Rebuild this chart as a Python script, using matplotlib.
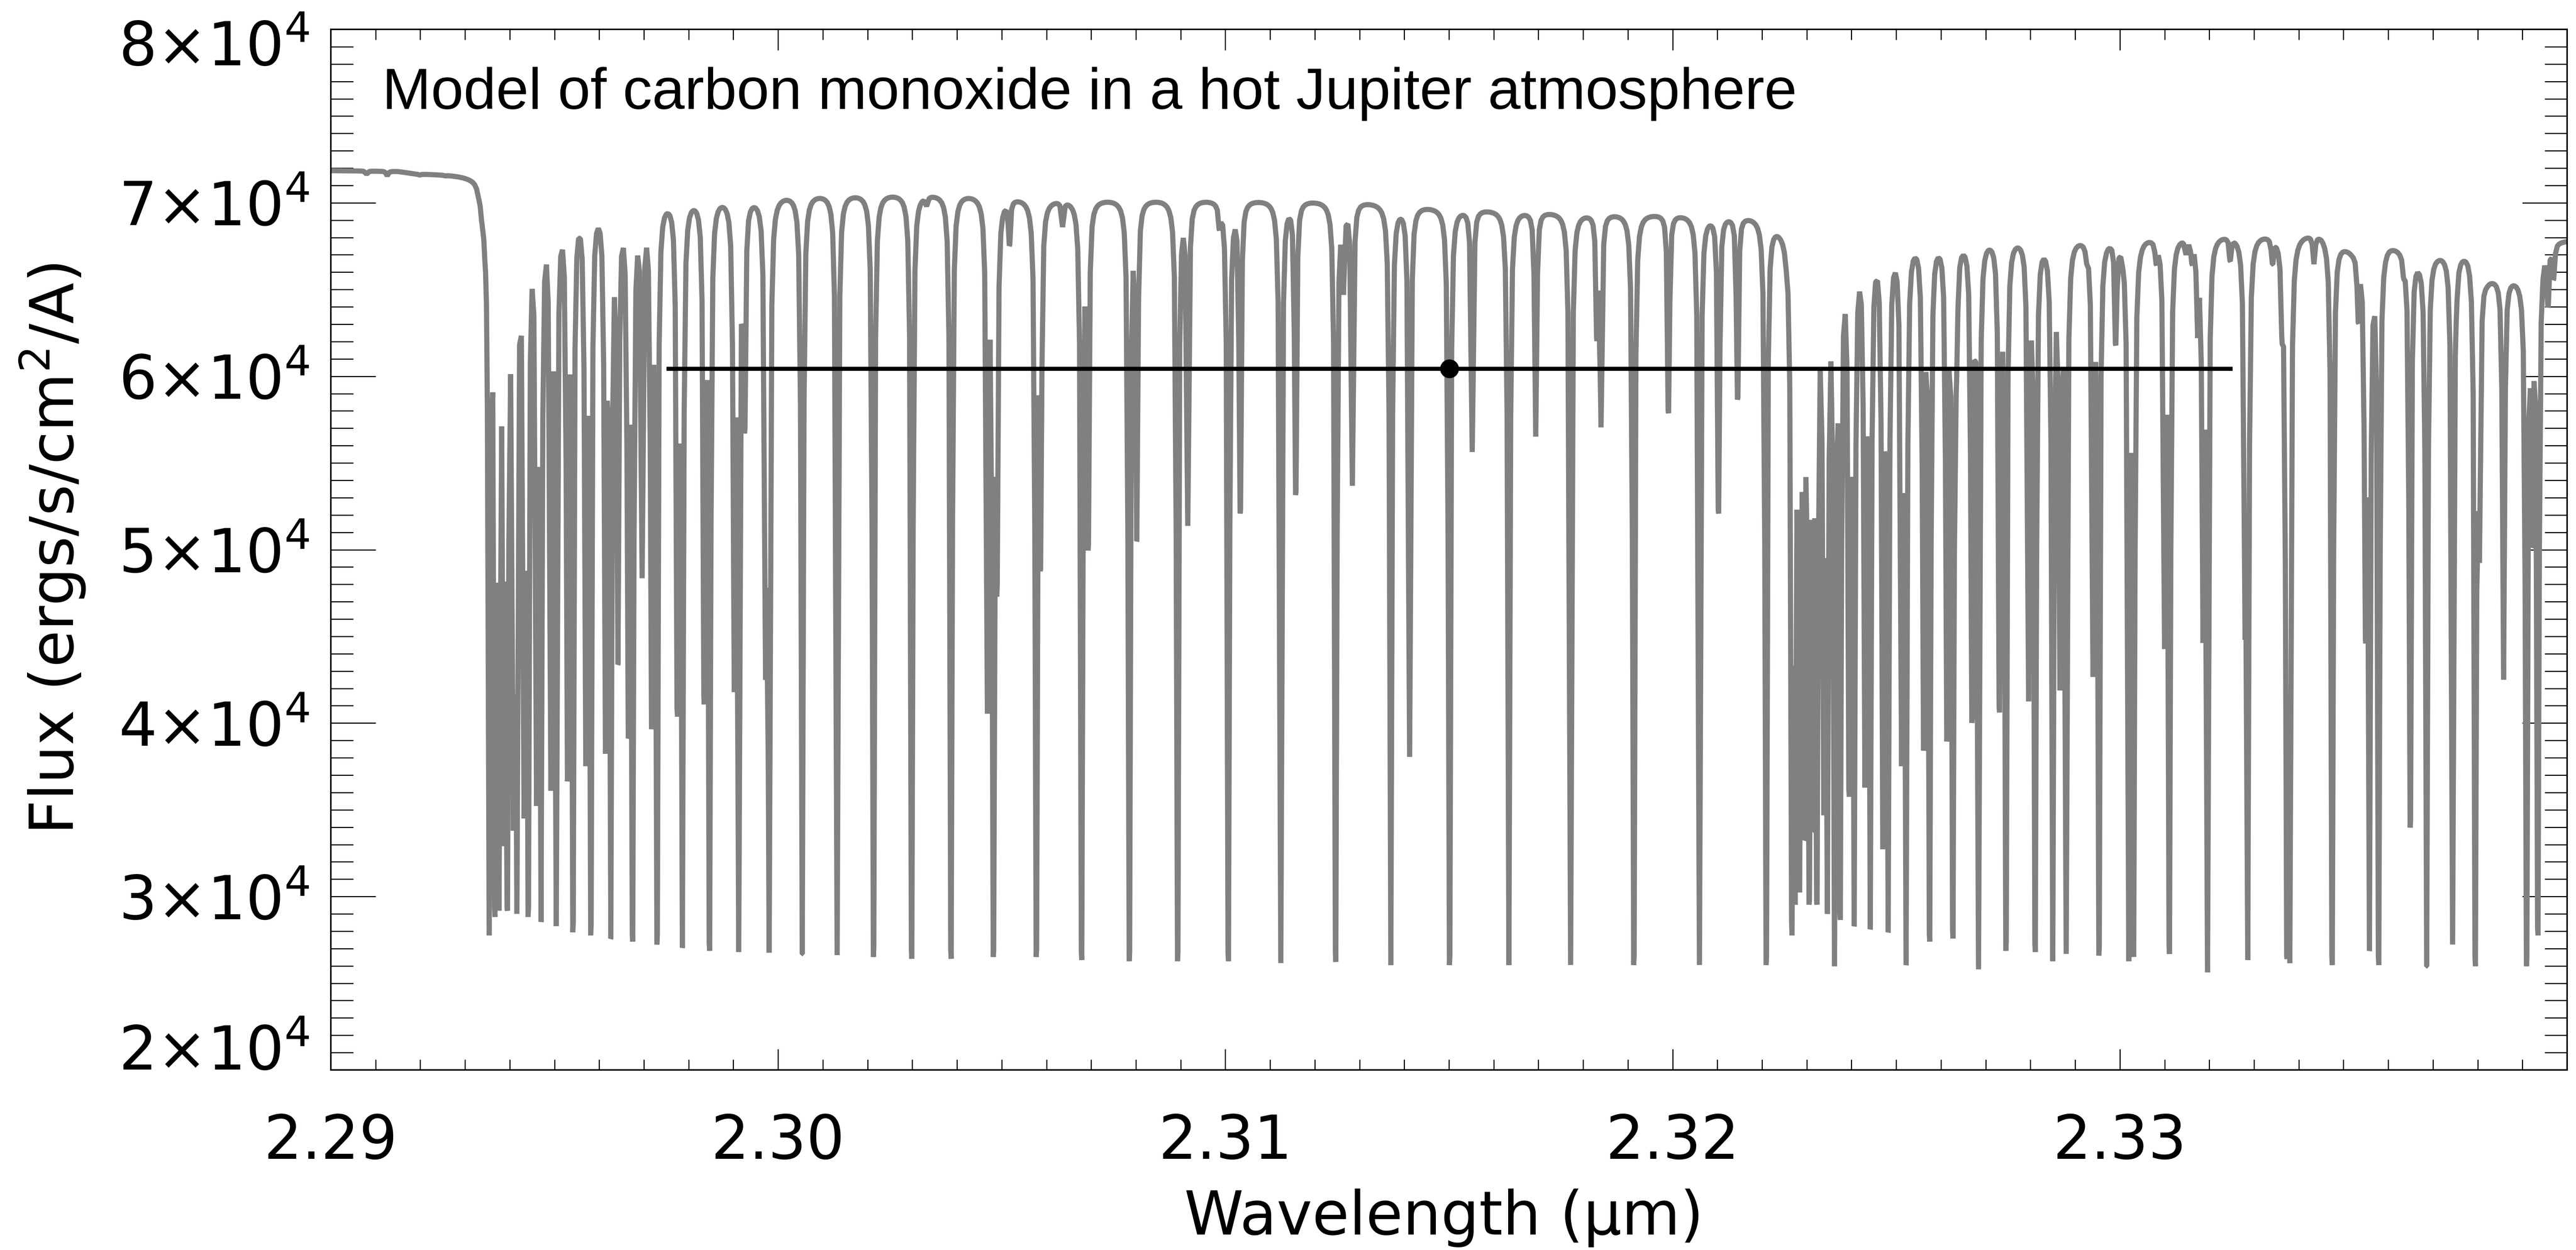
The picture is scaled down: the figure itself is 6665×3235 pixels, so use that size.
import numpy as np
import matplotlib
matplotlib.use('Agg')
import matplotlib.pyplot as plt
from matplotlib.ticker import MultipleLocator, FixedLocator, FixedFormatter
import matplotlib.transforms as mtransforms

# continuum of the model spectrum (erg/s/cm^2/A)
cont_wave = [2.2899, 2.2915, 2.2919, 2.2932, 2.2937, 2.2975, 2.3045, 2.3060,
             2.3100, 2.3130, 2.3150, 2.3165, 2.3180, 2.3220, 2.3226, 2.3240,
             2.3260, 2.3290, 2.3345, 2.3352, 2.3360, 2.3367, 2.3378, 2.3382,
             2.3391, 2.3395, 2.3401]
cont_flux = [71880, 71860, 71730, 71720, 71000, 70650, 70650, 70350,
             70300, 70200, 69800, 69650, 69500, 69400, 68800, 68500,
             68400, 68300, 68400, 67500, 67900, 67200, 67500, 65900,
             65900, 67900, 67900]

# CO line centres (micron) and the flux reached in each line core
line_wave = [
    2.29080, 2.29126, 2.29199, 2.29229, 2.29256, 2.29322, 2.29331, 2.29337,
    2.29344, 2.29348, 2.29354, 2.29367, 2.29376, 2.29387, 2.29395, 2.29408,
    2.29416, 2.29432, 2.29441, 2.29460, 2.29470, 2.29492, 2.29504, 2.29529,
    2.29541, 2.29570, 2.29581, 2.29614, 2.29626, 2.29642, 2.29665, 2.29675,
    2.29696, 2.29717, 2.29729, 2.29775, 2.29786, 2.29835, 2.29847, 2.29902,
    2.29912, 2.29925, 2.29972, 2.29980, 2.30054, 2.30132, 2.30213, 2.30299,
    2.30332, 2.30387, 2.30468, 2.30481, 2.30489, 2.30517, 2.30577, 2.30587,
    2.30636, 2.30679, 2.30693, 2.30785, 2.30802, 2.30893, 2.30916, 2.30987,
    2.31007, 2.31033, 2.31124, 2.31157, 2.31247, 2.31264, 2.31284, 2.31370,
    2.31412, 2.31501, 2.31552, 2.31634, 2.31694, 2.31772, 2.31831, 2.31840,
    2.31913, 2.31991, 2.32060, 2.32103, 2.32145, 2.32209, 2.32254, 2.32267,
    2.32274, 2.32284, 2.32294, 2.32305, 2.32314, 2.32323, 2.32338, 2.32346,
    2.32362, 2.32375, 2.32395, 2.32406, 2.32430, 2.32442, 2.32470, 2.32482,
    2.32512, 2.32522, 2.32561, 2.32575, 2.32613, 2.32627, 2.32635, 2.32669,
    2.32684, 2.32731, 2.32745, 2.32796, 2.32811, 2.32850, 2.32866, 2.32880,
    2.32926, 2.32940, 2.32953, 2.32991, 2.33007, 2.33020, 2.33031, 2.33081,
    2.33100, 2.33111, 2.33148, 2.33161, 2.33174, 2.33186, 2.33196, 2.33247,
    2.33280, 2.33286, 2.33341, 2.33363, 2.33373, 2.33380, 2.33434, 2.33475,
    2.33533, 2.33549, 2.33558, 2.33579, 2.33635, 2.33649, 2.33686, 2.33744,
    2.33752, 2.33795, 2.33804, 2.33858, 2.33909, 2.33922, 2.33935, 2.33957,
    2.33970]
line_min = [
    71650, 71550, 71600, 71620, 71550, 71080, 70190, 68950,
    66820, 64330, 27760, 28820, 29180, 32910, 29180, 33800,
    29000, 34500, 28820, 35220, 28540, 36100, 28290, 36640,
    27940, 37520, 27760, 38230, 27580, 43380, 39120, 27400,
    48350, 39650, 27230, 40370, 27050, 41075, 26870, 41785,
    26800, 56700, 42495, 26765, 26694, 26620, 26516, 26410,
    69800, 26410, 40540, 26516, 47290, 67530, 26516, 48890,
    68600, 26340, 49950, 26270, 50490, 26270, 51370, 68420,
    26270, 52080, 26160, 53150, 26230, 64690, 53680, 26050,
    38050, 26050, 55630, 26050, 56520, 26050, 62030, 57050,
    26050, 57870, 26050, 52080, 58650, 26050, 66110, 27760,
    29530, 30240, 33265, 29530, 33800, 29530, 34680, 29000,
    25980, 28650, 35750, 28290, 36280, 28120, 32730, 27940,
    37520, 26050, 38410, 27400, 38940, 27580, 59720, 40010,
    25800, 40610, 26870, 41250, 26800, 26270, 41890, 26690,
    66460, 42670, 26590, 61780, 66110, 26270, 26520, 66460,
    44270, 26690, 67000, 66460, 62200, 44630, 25630, 66640,
    44800, 26340, 66460, 61850, 26520, 26160, 66460, 26050,
    63090, 44800, 26870, 26050, 65580, 33970, 25980, 27230,
    63090, 25980, 49240, 42500, 25980, 50130, 27760, 63980,
    65580]

# binned measurement: centre, half-width of the bin, flux
point_wave = 2.31501
point_halfwidth = 0.01751
point_flux = 60430

xtick_vals = [2.29, 2.30, 2.31, 2.32, 2.33, 2.34]
xtick_text = ['2.29', '2.30', '2.31', '2.32', '2.33', '']
ytick_vals = [20000, 30000, 40000, 50000, 60000, 70000, 80000]
ytick_text = ['%d\u00d710$^{4}$' % (v // 10000) for v in ytick_vals]

# line shape: saturated Lorentzian, K = T * gamma^2 in micron^2
K = 5.2e-10
T = 30.0
gam2 = K / T


def shape(dx):
    tau = K / (dx ** 2 + gam2)
    return (1.0 - np.exp(-tau)) / (1.0 - np.exp(-T))


c = np.array(line_wave)
m = np.array(line_min, dtype=float)
cont_c = np.interp(c, cont_wave, cont_flux)
P = shape(c[:, None] - c[None, :])
a = np.clip(1.0 - m / cont_c, 0.0, 0.98)
for _ in range(80):
    others = np.prod(1.0 - a[None, :] * P, axis=1) / (1.0 - a)
    a = np.clip(1.0 - m / (cont_c * others), 0.0, 0.98)

# model sampled like the original grid, plus every line centre
wave = np.unique(np.concatenate([np.arange(2.2899, 2.34012, 4e-5), c]))
absorb = np.prod(1.0 - a[None, :] * shape(wave[:, None] - c[None, :]), axis=1)
flux = np.interp(wave, cont_wave, cont_flux) * absorb

W, H, DPI = 6665, 3235, 200
fig = plt.figure(figsize=(W / DPI, H / DPI), dpi=DPI)
ax = fig.add_axes([856 / W, (H - 2769) / H, 5786 / W, 2693 / H])

ax.plot(wave, flux, color='#808080', lw=4.8, solid_joinstyle='bevel',
        solid_capstyle='butt', zorder=2)
ax.errorbar(point_wave, point_flux, xerr=point_halfwidth, fmt='o',
            color='black', ms=16.5, elinewidth=3.8, capsize=0, zorder=3)

ax.set_xlim(2.29, 2.34)
ax.set_ylim(20000, 80000)
for s in ax.spines.values():
    s.set_linewidth(1.4)

ax.xaxis.set_major_locator(FixedLocator(xtick_vals))
ax.xaxis.set_major_formatter(FixedFormatter(xtick_text))
ax.xaxis.set_minor_locator(MultipleLocator(0.001))
ax.yaxis.set_major_locator(FixedLocator(ytick_vals))
ax.yaxis.set_minor_locator(MultipleLocator(1000))

ax.tick_params(axis='x', which='major', direction='in', length=19.4, width=1.0,
               top=True, bottom=True, labelsize=56, pad=40)
ax.tick_params(axis='x', which='minor', direction='in', length=9.7, width=1.0,
               top=True, bottom=True)
ax.tick_params(axis='y', which='major', direction='in', length=41.8, width=1.0,
               left=True, right=True, labelleft=False)
ax.tick_params(axis='y', which='minor', direction='in', length=20.9, width=1.0,
               left=True, right=True)

# y labels drawn by hand so the end ones stay inside the frame
ytr = ax.get_yaxis_transform()
for v, lab in zip(ytick_vals, ytick_text):
    tr, va = ytr, 'center_baseline'
    if v == ytick_vals[0]:
        va = 'baseline'
    elif v == ytick_vals[-1]:
        va = 'top'
        tr = mtransforms.offset_copy(ytr, fig=fig, y=9, units='points')
    ax.text(-0.0095, v, lab, transform=tr, ha='right', va=va, fontsize=56)

ax.text(0.023, 0.9235, 'Model of carbon monoxide in a hot Jupiter atmosphere',
        transform=ax.transAxes, fontsize=54.5, family='Liberation Sans',
        ha='left', va='baseline')

fig.text(0.5605, 0.01236, 'Wavelength (\u03bcm)', ha='center', va='baseline',
         fontsize=56)
fig.text(0.0205, 0.5607, 'Flux (ergs/s/cm$^2$/A)', rotation=90,
         ha='center', va='center', fontsize=56)

fig.savefig('out.png', dpi=DPI)
